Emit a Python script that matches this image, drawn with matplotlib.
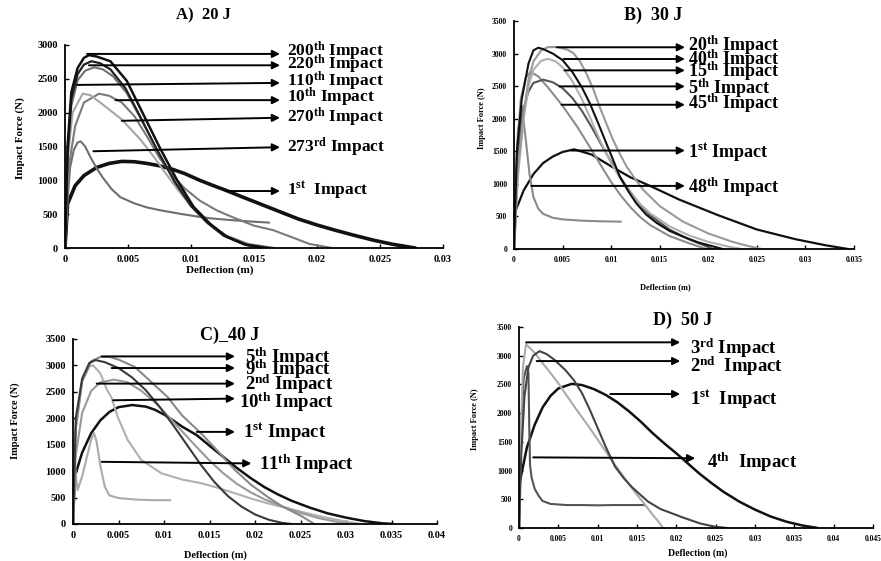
import matplotlib
matplotlib.use("Agg")
import matplotlib.pyplot as plt

plt.rcParams["font.family"] = "Liberation Serif"
plt.rcParams["font.weight"] = "bold"
plt.rcParams["mathtext.fontset"] = "custom"
plt.rcParams["mathtext.rm"] = "Liberation Serif:bold"
plt.rcParams["mathtext.bf"] = "Liberation Serif:bold"
plt.rcParams["mathtext.it"] = "Liberation Serif:bold"

# ---------------- A) 20 J ----------------
a_1st_x = [0, 0.0002, 0.0008, 0.0015, 0.0025, 0.0035, 0.0045, 0.0055, 0.0065, 0.0075, 0.0085, 0.0095,
           0.0107, 0.0118, 0.0128, 0.014, 0.0155, 0.017, 0.0185, 0.02, 0.0215, 0.023, 0.0245, 0.026, 0.0278]
a_1st_y = [0, 650, 920, 1070, 1190, 1250, 1280, 1275, 1250, 1215, 1165, 1100,
           1000, 920, 850, 760, 650, 540, 430, 340, 260, 185, 115, 55, 0]
a_200_x = [0, 0.0002, 0.0005, 0.001, 0.0015, 0.0019, 0.0025, 0.0036, 0.0049, 0.0062, 0.0075, 0.0089,
           0.0102, 0.0115, 0.0128, 0.0144, 0.0158]
a_200_y = [0, 1500, 2300, 2660, 2810, 2850, 2830, 2760, 2470, 1980, 1490, 1000, 610, 360, 170, 45, 0]
a_220_x = [0, 0.0002, 0.0005, 0.001, 0.0015, 0.0021, 0.0028, 0.0036, 0.0048, 0.006, 0.0073, 0.0087,
           0.01, 0.0113, 0.0126, 0.0142, 0.0162]
a_220_y = [0, 1400, 2200, 2570, 2710, 2760, 2730, 2640, 2360, 1930, 1450, 980, 620, 370, 180, 55, 0]
a_110_x = [0, 0.0002, 0.0005, 0.001, 0.0016, 0.0023, 0.003, 0.0038, 0.0049, 0.0061, 0.0074, 0.0087,
           0.01, 0.0113, 0.0127, 0.0145, 0.0166]
a_110_y = [0, 1300, 2100, 2480, 2620, 2670, 2640, 2540, 2290, 1880, 1420, 980, 630, 380, 190, 60, 0]
a_10_x = [0, 0.0003, 0.0008, 0.0015, 0.0027, 0.0035, 0.0045, 0.0055, 0.0065, 0.0075, 0.0085, 0.0095,
          0.0107, 0.012, 0.0133, 0.015, 0.0165, 0.018, 0.0194, 0.0212]
a_10_y = [0, 1200, 1800, 2150, 2280, 2250, 2150, 1950, 1650, 1330, 1080, 880,
          700, 560, 455, 330, 265, 160, 60, 0]
a_270_x = [0, 0.0002, 0.0006, 0.0014, 0.002, 0.003, 0.0045, 0.006, 0.007, 0.008, 0.009, 0.01,
           0.011, 0.012, 0.013, 0.014, 0.0155]
a_270_y = [0, 1300, 2000, 2280, 2260, 2120, 1900, 1600, 1360, 1100, 850, 620, 430, 280, 160, 70, 0]
a_273_x = [0, 0.0002, 0.0004, 0.0007, 0.001, 0.00125, 0.0016, 0.002, 0.0025, 0.003, 0.0037, 0.0044,
           0.0055, 0.0065, 0.0075, 0.009, 0.0105, 0.0115, 0.013, 0.0145, 0.0162]
a_273_y = [0, 700, 1190, 1450, 1560, 1575, 1500, 1350, 1180, 1040, 870, 750,
           660, 600, 560, 510, 465, 440, 415, 395, 375]

# ---------------- B) 30 J ----------------
b_1st_x = [0, 0.0002, 0.001, 0.002, 0.003, 0.004, 0.005, 0.0062, 0.008, 0.01, 0.012, 0.014,
           0.017, 0.021, 0.025, 0.029, 0.032, 0.0344]
b_1st_y = [0, 600, 900, 1150, 1320, 1420, 1490, 1530, 1450, 1270, 1100, 970,
           760, 520, 300, 150, 60, 0]
b_48_x = [0, 0.0004, 0.0008, 0.0012, 0.0016, 0.002, 0.0025, 0.003, 0.004, 0.005, 0.007, 0.009, 0.011]
b_48_y = [0, 1800, 2200, 1700, 1150, 800, 620, 540, 480, 455, 435, 425, 420]
b_40_x = [0, 0.0003, 0.0008, 0.0015, 0.002, 0.0025, 0.003, 0.004, 0.005, 0.006, 0.007, 0.0078,
          0.0087, 0.0095, 0.0102, 0.0109, 0.0118, 0.0126, 0.0136, 0.0147, 0.016, 0.0174, 0.019, 0.0205, 0.0215]
b_40_y = [0, 1500, 2300, 2850, 3050, 3090, 3070, 3000, 2900, 2720, 2480, 2240,
          1920, 1625, 1370, 1110, 880, 700, 530, 400, 280, 190, 100, 40, 0]
b_20_x = [0, 0.0004, 0.001, 0.0015, 0.002, 0.0028, 0.0035, 0.0045, 0.0055, 0.0061, 0.0068, 0.0075,
          0.0082, 0.0088, 0.0095, 0.0102, 0.0109, 0.0116, 0.0125, 0.0133, 0.015, 0.0174, 0.02, 0.0225, 0.024, 0.0255]
b_20_y = [0, 1200, 2100, 2600, 2880, 3050, 3100, 3100, 3060, 3010, 2880, 2680,
          2440, 2190, 1930, 1675, 1460, 1265, 1070, 910, 660, 420, 240, 110, 50, 0]
b_15_x = [0, 0.0004, 0.001, 0.0015, 0.002, 0.0028, 0.0035, 0.0043, 0.005, 0.006, 0.007, 0.008,
          0.009, 0.01, 0.011, 0.012, 0.013, 0.014, 0.016, 0.018, 0.02, 0.022, 0.0235]
b_15_y = [0, 1100, 2000, 2500, 2750, 2890, 2920, 2880, 2790, 2580, 2300, 1960,
          1620, 1320, 1070, 860, 690, 550, 350, 210, 110, 40, 0]
b_5_x = [0, 0.0003, 0.0008, 0.0015, 0.002, 0.003, 0.004, 0.005, 0.006, 0.007, 0.008, 0.009,
         0.01, 0.011, 0.012, 0.013, 0.014, 0.016, 0.018, 0.0195, 0.0205]
b_5_y = [0, 1300, 2050, 2420, 2550, 2600, 2560, 2470, 2320, 2120, 1870, 1600,
         1340, 1090, 870, 680, 520, 300, 150, 60, 0]
b_45_x = [0, 0.0003, 0.0007, 0.0012, 0.0017, 0.0025, 0.0035, 0.005, 0.0065, 0.008, 0.009, 0.01,
          0.011, 0.012, 0.013, 0.014, 0.016, 0.018, 0.0198]
b_45_y = [0, 1500, 2300, 2630, 2720, 2650, 2480, 2200, 1880, 1520, 1270, 1030,
          820, 640, 490, 370, 200, 90, 0]

# ---------------- C) 40 J ----------------
c_1st_x = [0, 0.0002, 0.001, 0.002, 0.003, 0.004, 0.005, 0.0065, 0.008, 0.009, 0.01, 0.011,
           0.012, 0.0136, 0.015, 0.0165, 0.018, 0.0195, 0.021, 0.0225, 0.024, 0.026, 0.028, 0.03, 0.032, 0.034, 0.0352]
c_1st_y = [0, 900, 1350, 1720, 1960, 2120, 2210, 2250, 2220, 2160, 2070, 1960,
           1840, 1680, 1480, 1270, 1060, 870, 700, 560, 440, 310, 200, 120, 55, 12, 0]
c_5_x = [0, 0.0003, 0.001, 0.002, 0.003, 0.004, 0.005, 0.0068, 0.0085, 0.0104, 0.012, 0.0141,
         0.016, 0.0178, 0.0195, 0.0214, 0.023, 0.0251, 0.0265]
c_5_y = [0, 1800, 2700, 3080, 3160, 3160, 3110, 2970, 2700, 2400, 2050, 1710,
         1360, 1020, 750, 510, 330, 150, 0]
c_9_x = [0, 0.0003, 0.001, 0.0018, 0.0025, 0.0035, 0.005, 0.0065, 0.008, 0.0095, 0.011, 0.0125,
         0.014, 0.0155, 0.017, 0.0185, 0.02, 0.0215, 0.023, 0.024]
c_9_y = [0, 2000, 2750, 3050, 3100, 3060, 2950, 2770, 2530, 2220, 1870, 1500,
         1130, 800, 530, 330, 180, 80, 20, 0]
c_2_x = [0, 0.0003, 0.001, 0.002, 0.003, 0.0045, 0.006, 0.0075, 0.009, 0.0105, 0.012, 0.0135,
         0.015, 0.0165, 0.018, 0.0195, 0.021, 0.023, 0.025, 0.027, 0.029, 0.0305]
c_2_y = [0, 1300, 2100, 2520, 2680, 2730, 2680, 2520, 2300, 2030, 1750, 1470,
         1200, 960, 760, 600, 470, 330, 210, 110, 40, 0]
c_10_x = [0, 0.0003, 0.001, 0.0018, 0.0022, 0.003, 0.0037, 0.0042, 0.0049, 0.006, 0.0075, 0.0097,
          0.012, 0.0141, 0.016, 0.0178, 0.0196, 0.0214, 0.0235, 0.0251, 0.027, 0.029, 0.0315]
c_10_y = [0, 1800, 2700, 2980, 3000, 2850, 2550, 2400, 2030, 1590, 1210, 960,
          840, 770, 680, 580, 480, 390, 300, 230, 150, 80, 0]
c_11_x = [0, 0.0002, 0.0005, 0.001, 0.0015, 0.002, 0.0023, 0.0026, 0.003, 0.0035, 0.004, 0.005,
          0.007, 0.009, 0.0107]
c_11_y = [0, 1100, 640, 900, 1250, 1600, 1720, 1550, 1100, 700, 540, 490, 460, 450, 450]

# ---------------- D) 50 J ----------------
d_1st_x = [0, 0.0001, 0.001, 0.002, 0.003, 0.004, 0.005, 0.0067, 0.008, 0.0095, 0.011, 0.0125,
           0.014, 0.0155, 0.017, 0.0185, 0.02, 0.0215, 0.023, 0.0245, 0.026, 0.028, 0.03, 0.032, 0.034, 0.036, 0.038]
d_1st_y = [0, 800, 1400, 1800, 2100, 2300, 2430, 2510, 2490, 2420, 2320, 2190,
           2030, 1850, 1650, 1470, 1300, 1120, 940, 780, 630, 460, 320, 200, 110, 45, 0]
d_2_x = [0, 0.0003, 0.0007, 0.0012, 0.0018, 0.0026, 0.0035, 0.0045, 0.0059, 0.007, 0.008, 0.009,
         0.0101, 0.011, 0.0122, 0.0133, 0.0143, 0.0155, 0.0164, 0.018, 0.0207, 0.023, 0.0249, 0.0265]
d_2_y = [0, 1300, 2300, 2800, 3000, 3080, 3030, 2930, 2750, 2570, 2350, 2060,
         1710, 1420, 1070, 870, 720, 570, 460, 330, 190, 80, 23, 0]
d_3_x = [0, 0.0002, 0.0005, 0.0009, 0.002, 0.003, 0.004, 0.005, 0.006, 0.007, 0.008, 0.009,
         0.01, 0.011, 0.012, 0.013, 0.014, 0.015, 0.016, 0.017, 0.0178, 0.0183]
d_3_y = [0, 1500, 2800, 3200, 3050, 2870, 2700, 2520, 2320, 2120, 1930, 1740,
         1540, 1340, 1140, 950, 760, 580, 410, 230, 100, 0]
d_4_x = [0, 0.0003, 0.0006, 0.001, 0.0012, 0.0013, 0.0014, 0.0016, 0.002, 0.0025, 0.003, 0.004,
         0.006, 0.008, 0.01, 0.012, 0.014, 0.016]
d_4_y = [0, 1800, 2600, 2820, 2700, 1800, 1100, 880, 680, 560, 470, 420, 400, 400, 395, 400, 400, 400]

# arrow labels: text, arrow start (x, y), arrow end (x, y), text position (x, y)
a_labels = ["200$^{\\mathbf{th}}$ Impact", "220$^{\\mathbf{th}}$ Impact", "110$^{\\mathbf{th}}$ Impact",
            "10$^{\\mathbf{th}}$ Impact", "270$^{\\mathbf{th}}$ Impact", "273$^{\\mathbf{rd}}$ Impact",
            "1$^{\\mathbf{st}}$  Impact"]
a_from_x = [0.00175, 0.0019, 0.00095, 0.004, 0.0045, 0.00225, 0.0128]
a_from_y = [2868, 2700, 2410, 2185, 1880, 1430, 842]
a_to_x = [0.01706] * 7
a_to_y = [2868, 2700, 2440, 2185, 1925, 1490, 842]
a_text_x = [0.0176] * 7
a_text_y = [2900, 2710, 2465, 2220, 1935, 1489, 853]

b_labels = ["20$^{\\mathbf{th}}$ Impact", "40$^{\\mathbf{th}}$ Impact", "15$^{\\mathbf{th}}$ Impact",
            "5$^{\\mathbf{th}}$ Impact", "45$^{\\mathbf{th}}$ Impact", "1$^{\\mathbf{st}}$ Impact",
            "48$^{\\mathbf{th}}$ Impact"]
b_from_x = [0.0044, 0.0051, 0.0052, 0.0047, 0.0049, 0.0059, 0.0018]
b_from_y = [3097, 2917, 2743, 2497, 2215, 1512, 969]
b_to_x = [0.0176] * 7
b_to_y = b_from_y
b_text_x = [0.0179] * 7
b_text_y = [3120, 2907, 2727, 2472, 2230, 1497, 945]

c_labels = ["5$^{\\mathbf{th}}$ Impact", "9$^{\\mathbf{th}}$ Impact", "2$^{\\mathbf{nd}}$ Impact",
            "10$^{\\mathbf{th}}$ Impact", "1$^{\\mathbf{st}}$ Impact", "11$^{\\mathbf{th}}$ Impact"]
c_from_x = [0.00315, 0.00425, 0.0026, 0.0044, 0.0136, 0.00315]
c_from_y = [3170, 2950, 2655, 2340, 1742, 1176]
c_to_x = [0.0178, 0.0178, 0.0178, 0.0178, 0.0178, 0.0196]
c_to_y = [3170, 2950, 2655, 2372, 1742, 1145]
c_text_x = [0.0189, 0.0189, 0.0189, 0.0182, 0.0187, 0.0204]
c_text_y = [3157, 2918, 2642, 2308, 1742, 1127]

d_labels = ["3$^{\\mathbf{rd}}$ Impact", "2$^{\\mathbf{nd}}$  Impact", "1$^{\\mathbf{st}}$  Impact",
            "4$^{\\mathbf{th}}$  Impact"]
d_from_x = [0.0009, 0.00225, 0.0116, 0.0018]
d_from_y = [3233, 2907, 2333, 1230]
d_to_x = [0.0205, 0.0205, 0.0205, 0.0224]
d_to_y = [3233, 2907, 2333, 1215]
d_text_x = [0.0217, 0.0217, 0.0217, 0.0239]
d_text_y = [3128, 2820, 2240, 1137]

a_xticks = [0, 0.005, 0.01, 0.015, 0.02, 0.025, 0.03]
b_xticks = [0, 0.005, 0.01, 0.015, 0.02, 0.025, 0.03, 0.035]
c_xticks = [0, 0.005, 0.01, 0.015, 0.02, 0.025, 0.03, 0.035, 0.04]
d_xticks = [0, 0.005, 0.01, 0.015, 0.02, 0.025, 0.03, 0.035, 0.04, 0.045]
a_yticks = [0, 500, 1000, 1500, 2000, 2500, 3000]
bcd_yticks = [0, 500, 1000, 1500, 2000, 2500, 3000, 3500]

fig = plt.figure(figsize=(8.81, 5.61), dpi=100)

panels = [
    dict(rect=[0.0738, 0.5579, 0.4291, 0.3619], xmax=0.03, ymax=3000, xt=a_xticks, yt=a_yticks,
         tick_fs=7.5, ylab_fs=8, xlab_fs=8, ylab_pos=(-0.119, 0.54), xlab_pos=(0.41, -0.108),
         lab_fs=12.5,
         curves=[(a_1st_x, a_1st_y, "#111111", 2.6), (a_273_x, a_273_y, "#6e6e6e", 1.5),
                 (a_10_x, a_10_y, "#7a7a7a", 1.5), (a_270_x, a_270_y, "#a5a5a5", 1.5),
                 (a_110_x, a_110_y, "#707070", 1.5), (a_220_x, a_220_y, "#222222", 1.6),
                 (a_200_x, a_200_y, "#111111", 1.8)],
         arrows=(a_labels, a_from_x, a_from_y, a_to_x, a_to_y, a_text_x, a_text_y)),
    dict(rect=[0.5834, 0.5561, 0.3859, 0.4064], xmax=0.035, ymax=3500, xt=b_xticks, yt=bcd_yticks,
         tick_fs=5.5, ylab_fs=6, xlab_fs=6, ylab_pos=(-0.094, 0.575), xlab_pos=(0.444, -0.167),
         lab_fs=13,
         curves=[(b_1st_x, b_1st_y, "#111111", 1.6), (b_48_x, b_48_y, "#8a8a8a", 1.5),
                 (b_45_x, b_45_y, "#8c8c8c", 1.5), (b_5_x, b_5_y, "#555555", 1.5),
                 (b_15_x, b_15_y, "#b0b0b0", 1.5), (b_20_x, b_20_y, "#999999", 1.5),
                 (b_40_x, b_40_y, "#111111", 1.5)],
         arrows=(b_labels, b_from_x, b_from_y, b_to_x, b_to_y, b_text_x, b_text_y)),
    dict(rect=[0.0829, 0.0660, 0.4132, 0.3298], xmax=0.04, ymax=3500, xt=c_xticks, yt=bcd_yticks,
         tick_fs=7.5, ylab_fs=7.5, xlab_fs=7.5, ylab_pos=(-0.159, 0.56), xlab_pos=(0.39, -0.168),
         lab_fs=13.5,
         curves=[(c_1st_x, c_1st_y, "#111111", 1.8), (c_11_x, c_11_y, "#aaaaaa", 1.5),
                 (c_10_x, c_10_y, "#b0b0b0", 1.5), (c_2_x, c_2_y, "#999999", 1.5),
                 (c_5_x, c_5_y, "#888888", 1.5), (c_9_x, c_9_y, "#3a3a3a", 1.5)],
         arrows=(c_labels, c_from_x, c_from_y, c_to_x, c_to_y, c_text_x, c_text_y)),
    dict(rect=[0.5891, 0.0588, 0.4018, 0.3583], xmax=0.045, ymax=3500, xt=d_xticks, yt=bcd_yticks,
         tick_fs=5.5, ylab_fs=6, xlab_fs=7, ylab_pos=(-0.124, 0.54), xlab_pos=(0.506, -0.124),
         lab_fs=13.5,
         curves=[(d_1st_x, d_1st_y, "#111111", 1.8), (d_4_x, d_4_y, "#555555", 1.5),
                 (d_3_x, d_3_y, "#aaaaaa", 1.5), (d_2_x, d_2_y, "#444444", 1.5)],
         arrows=(d_labels, d_from_x, d_from_y, d_to_x, d_to_y, d_text_x, d_text_y)),
]

for p in panels:
    ax = fig.add_axes(p["rect"])
    for x, y, c, lw in p["curves"]:
        ax.plot(x, y, color=c, lw=lw, solid_capstyle="round")
    labels, fx, fy, tx, ty, lx, ly = p["arrows"]
    for i in range(len(labels)):
        ax.annotate("", xy=(tx[i], ty[i]), xytext=(fx[i], fy[i]), annotation_clip=False,
                    arrowprops=dict(arrowstyle="-|>", color="black", lw=1.4,
                                    mutation_scale=11, shrinkA=0, shrinkB=0))
        ax.text(lx[i], ly[i], labels[i], fontsize=p["lab_fs"], fontweight="bold",
                va="center", ha="left", clip_on=False)
    ax.set_xlim(0, p["xmax"])
    ax.set_ylim(0, p["ymax"])
    ax.set_xticks(p["xt"])
    ax.set_xticklabels([("%g" % v) for v in p["xt"]])
    ax.set_yticks(p["yt"])
    ax.tick_params(direction="in", length=3, width=1, labelsize=p["tick_fs"], pad=5)
    for s in ["top", "right"]:
        ax.spines[s].set_visible(False)
    for s in ["left", "bottom"]:
        ax.spines[s].set_linewidth(1.3)
    ax.set_ylabel("Impact Force (N)", fontsize=p["ylab_fs"], fontweight="bold", va="center")
    ax.yaxis.set_label_coords(*p["ylab_pos"])
    ax.set_xlabel("Deflection (m)", fontsize=p["xlab_fs"], fontweight="bold", va="center")
    ax.xaxis.set_label_coords(*p["xlab_pos"])

fig.text(203 / 881, 1 - 15 / 561, "A)  20 J", fontsize=12, fontweight="bold", ha="center", va="center")
fig.text(653 / 881, 1 - 15 / 561, "B)  30 J", fontsize=13, fontweight="bold", ha="center", va="center")
fig.text(230 / 881, 1 - 335 / 561, "C)_40 J", fontsize=13, fontweight="bold", ha="center", va="center")
fig.text(683 / 881, 1 - 320 / 561, "D)  50 J", fontsize=13, fontweight="bold", ha="center", va="center")

fig.savefig("out.png", dpi=100)
